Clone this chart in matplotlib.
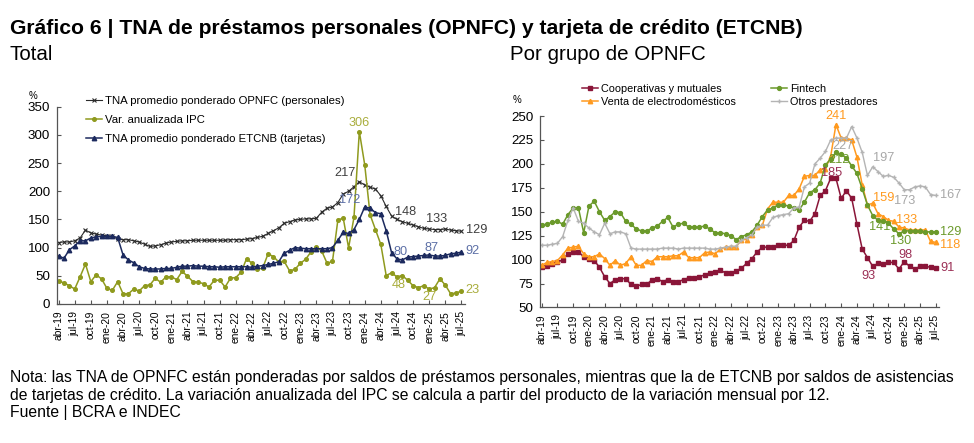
import matplotlib
matplotlib.use("Agg")
import matplotlib.pyplot as plt

# Data: monthly, abr-19 .. jul-25 (76 points)
tick_labels = ["abr-19", "jul-19", "oct-19", "ene-20", "abr-20", "jul-20", "oct-20",
               "ene-21", "abr-21", "jul-21", "oct-21", "ene-22", "abr-22", "jul-22",
               "oct-22", "ene-23", "abr-23", "jul-23", "oct-23", "ene-24", "abr-24",
               "jul-24", "oct-24", "ene-25", "abr-25", "jul-25"]

# left panel: Total
opnfc = [109, 110, 110, 112, 117, 131, 126, 124, 122,
         121, 120, 115, 114, 114, 112, 110, 106, 102, 103, 105, 108,
         110, 111, 112, 112, 113, 113, 113, 113, 113, 113, 113, 114,
         114, 114, 115, 116, 118, 120, 125, 130, 135, 143, 146, 149,
         150, 151, 151, 152, 163, 170, 172, 180, 195, 200, 208, 217,
         211, 207, 204, 192, 173, 156, 150, 146, 143, 140, 137, 134,
         133, 132, 132, 133, 131, 130, 129]
ipc = [40.8, 37.2, 32.4, 26.4, 48.0, 70.8, 39.6, 51.6, 44.4,
       27.6, 24.0, 39.6, 18.0, 18.0, 26.4, 22.8, 32.4, 33.6, 45.6, 38.4, 48.0,
       48.0, 43.2, 57.6, 49.2, 39.6, 38.4, 36.0, 30.0, 42.0, 42.0, 30.0, 45.6,
       46.8, 56.4, 80.4, 72.0, 61.2, 63.6, 88.8, 84.0, 74.4, 75.6, 58.8, 61.2,
       72.0, 79.2, 92.4, 100.8, 93.6, 72.0, 75.6, 148.8, 152.4, 99.6, 153.6, 306.0,
       247.2, 158.4, 132.0, 105.6, 50.4, 55.2, 48.0, 50.4, 42.0, 32.4, 28.8, 32.4,
       26.4, 28.8, 44.4, 33.6, 18.0, 19.2, 22.8]
etcnb = [85, 81, 96, 103, 112, 112, 117, 119, 120,
         120, 120, 118, 87, 78, 73, 66, 63, 62, 62, 62, 63,
         63, 65, 67, 67, 68, 67, 67, 66, 66, 65, 66, 66,
         66, 66, 66, 65, 67, 68, 70, 72, 75, 90, 95, 100,
         99, 98, 98, 98, 98, 98, 100, 113, 127, 125, 132, 150,
         172, 170, 162, 160, 130, 91, 80, 78, 83, 84, 85, 86,
         87, 85, 85, 86, 89, 90, 92]

# right panel: por grupo de OPNFC
coop = [92, 93, 95, 97, 100, 106, 108, 108, 103,
        101, 99, 92, 82, 75, 79, 80, 80, 74, 72, 74, 74,
        79, 80, 77, 79, 77, 77, 79, 81, 81, 82, 84, 86,
        87, 89, 86, 86, 88, 91, 96, 101, 108, 113, 113, 113,
        115, 115, 115, 120, 134, 141, 140, 148, 167, 172, 185, 185,
        164, 172, 164, 137, 111, 102, 93, 96, 95, 97, 97, 90,
        98, 93, 90, 93, 93, 92, 91]
fintech = [136, 137, 139, 140, 137, 147, 154, 154, 128,
           156, 161, 150, 141, 145, 150, 149, 140, 137, 132, 130, 130,
           133, 135, 140, 144, 134, 137, 138, 134, 134, 134, 135, 132,
           128, 128, 127, 125, 121, 124, 126, 129, 136, 145, 152, 154,
           157, 157, 156, 154, 152, 160, 170, 173, 180, 199, 205, 212,
           210, 206, 198, 190, 174, 157, 146, 141, 140, 138, 132, 127,
           130, 130, 130, 130, 129, 129, 129]
venta = [94, 97, 98, 99, 105, 112, 113, 114, 106,
         103, 103, 106, 101, 94, 99, 94, 96, 103, 94, 94, 99,
         98, 103, 103, 103, 104, 104, 108, 102, 102, 102, 107, 108,
         106, 111, 113, 113, 113, 121, 121, 126, 134, 136, 153, 160,
         160, 160, 167, 167, 174, 187, 188, 188, 194, 195, 208, 241,
         227, 227, 225, 207, 178, 157, 159, 148, 145, 141, 140, 134,
         133, 131, 131, 131, 131, 119, 118]
otros = [115, 115, 116, 117, 124, 141, 154, 140, 138,
         133, 129, 126, 138, 127, 129, 129, 127, 112, 111, 111, 111,
         111, 111, 112, 112, 112, 111, 112, 112, 112, 112, 112, 111,
         111, 112, 113, 114, 114, 120, 123, 126, 134, 136, 136, 144,
         146, 147, 148, 154, 155, 176, 180, 200, 206, 213, 225, 227,
         227, 227, 239, 227, 212, 188, 197, 192, 187, 188, 186, 180,
         173, 173, 176, 177, 176, 168, 167]

x = list(range(len(opnfc)))

plt.rcParams['font.family'] = ['Liberation Sans', 'DejaVu Sans']

fig = plt.figure(figsize=(9.74, 4.43), dpi=100)

fig.text(0.010, 0.935, "Gráfico 6 | TNA de préstamos personales (OPNFC) y tarjeta de crédito (ETCNB)",
         fontsize=15.2, fontweight='bold', va='center')
fig.text(0.010, 0.878, "Total", fontsize=14.8, va='center')
fig.text(0.524, 0.878, "Por grupo de OPNFC", fontsize=14.8, va='center')

note_size = 11.3
fig.text(0.010, 0.148, "Nota: las TNA de OPNFC están ponderadas por saldos de préstamos personales, "
         "mientras que la de ETCNB por saldos de asistencias", fontsize=note_size, va='center')
fig.text(0.010, 0.108, "de tarjetas de crédito. La variación anualizada del IPC se calcula a partir "
         "del producto de la variación mensual por 12.", fontsize=note_size, va='center')
fig.text(0.010, 0.068, "Fuente | BCRA e INDEC", fontsize=note_size, va='center')


def style_axes(ax, ylim, ystep):
    ax.set_xlim(-0.3, 75.6)
    ax.set_ylim(*ylim)
    ax.set_yticks(range(ylim[0], ylim[1] + 1, ystep))
    ax.set_xticks(range(0, 76, 3))
    ax.set_xticklabels(tick_labels, rotation=90, fontsize=7.4)
    ax.tick_params(axis='y', direction='in', length=3, labelsize=9.6, pad=5, color='#555555')
    ax.tick_params(axis='x', direction='in', length=3, pad=5, color='#555555')
    for s in ['top', 'right']:
        ax.spines[s].set_visible(False)
    for s in ['left', 'bottom']:
        ax.spines[s].set_color('#555555')
        ax.spines[s].set_linewidth(0.9)


def label(ax, i, series, text, color, dx, dy, ha='center'):
    ax.annotate(text, xy=(i, series[i]), xytext=(dx, dy), textcoords='offset points',
                ha=ha, va='center', color=color, fontsize=9.2)


# ---- left panel ----
ax1 = fig.add_axes([0.0585, 0.314, 0.4185, 0.445])
style_axes(ax1, (0, 350), 50)
ax1.plot(x, opnfc, color='#2b2b2b', lw=0.8, marker='x', ms=3, mew=0.8,
         label='TNA promedio ponderado OPNFC (personales)')
ax1.plot(x, ipc, color='#8f9a1e', lw=1.1, marker='o', ms=2.6,
         label='Var. anualizada IPC')
ax1.plot(x, etcnb, color='#1c2a5e', lw=1.1, marker='^', ms=3.2,
         label='TNA promedio ponderado ETCNB (tarjetas)')
ax1.text(-0.058, 1.055, "%", transform=ax1.transAxes, fontsize=7, ha='center', va='center')
ax1.legend(loc='upper left', bbox_to_anchor=(0.06, 1.08), frameon=False, fontsize=8.2,
           handlelength=1.4, handletextpad=0.3, labelspacing=0.8, borderaxespad=0)

c_opn, c_ipc, c_etc = '#404040', '#a9ad3c', '#5c6fa6'
label(ax1, 56, ipc, "306", c_ipc, 0, 6)
label(ax1, 56, opnfc, "217", c_opn, -10, 6)
label(ax1, 57, etcnb, "172", c_etc, -11, 5)
label(ax1, 63, opnfc, "148", c_opn, 6, 5)
label(ax1, 69, opnfc, "133", c_opn, 5, 7)
label(ax1, 75, opnfc, "129", c_opn, 3, 1, ha='left')
label(ax1, 64, etcnb, "80", c_etc, -1, 6)
label(ax1, 69, etcnb, "87", c_etc, 2, 5)
label(ax1, 75, etcnb, "92", c_etc, 3, 1, ha='left')
label(ax1, 63, ipc, "48", c_ipc, 1, -6)
label(ax1, 69, ipc, "27", c_ipc, 0, -6)
label(ax1, 75, ipc, "23", c_ipc, 3, 1, ha='left')

# ---- right panel ----
ax2 = fig.add_axes([0.5545, 0.306, 0.4095, 0.432])
style_axes(ax2, (50, 250), 25)
ax2.plot(x, coop, color='#8a1538', lw=1.1, marker='s', ms=2.8,
         label='Cooperativas y mutuales')
ax2.plot(x, venta, color='#ff9a1f', lw=1.1, marker='^', ms=3.2,
         label='Venta de electrodomésticos')
ax2.plot(x, fintech, color='#6b9a2b', lw=1.1, marker='o', ms=2.8,
         label='Fintech')
ax2.plot(x, otros, color='#b4b4b4', lw=1.0, marker='+', ms=3,
         label='Otros prestadores')
ax2.text(-0.058, 1.085, "%", transform=ax2.transAxes, fontsize=7, ha='center', va='center')
ax2.legend(loc='upper left', bbox_to_anchor=(0.093, 1.19), frameon=False, fontsize=7.8, ncol=2,
           handlelength=1.5, handletextpad=0.3, labelspacing=0.3, columnspacing=3.2,
           borderaxespad=0)

c_coop, c_fin, c_ven, c_otr = '#9b2f55', '#6b9a2b', '#ff9a1f', '#a8a8a8'
label(ax2, 56, venta, "241", c_ven, 0, 6)
label(ax2, 57, otros, "227", c_otr, 1, -5.5)
label(ax2, 56, fintech, "212", c_fin, 2, -5.4)
label(ax2, 55, coop, "185", c_coop, 1, 3.9)
label(ax2, 63, otros, "197", c_otr, 8, 6)
label(ax2, 63, venta, "159", c_ven, 8, 4)
label(ax2, 69, otros, "173", c_otr, 0, -8)
label(ax2, 75, otros, "167", c_otr, 3, 0, ha='left')
label(ax2, 69, venta, "133", c_ven, 2, 6)
label(ax2, 64, fintech, "141", c_fin, 1, -5)
label(ax2, 68, fintech, "130", c_fin, 1, -5)
label(ax2, 75, fintech, "129", c_fin, 3, 0, ha='left')
label(ax2, 75, venta, "118", c_ven, 3, -2, ha='left')
label(ax2, 69, coop, "98", c_coop, 1, 4.5)
label(ax2, 63, coop, "93", c_coop, -3, -7)
label(ax2, 75, coop, "91", c_coop, 3, 0, ha='left')

fig.savefig("out.png", dpi=100)
